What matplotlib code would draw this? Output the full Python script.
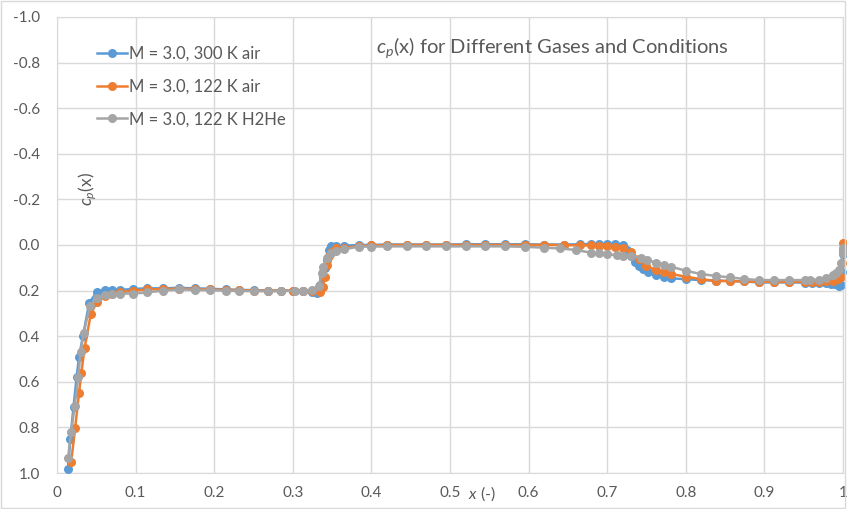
import matplotlib
matplotlib.use("Agg")
import matplotlib.pyplot as plt

plt.rcParams["font.family"] = ["Lato", "DejaVu Sans"]
plt.rcParams["mathtext.fontset"] = "custom"
plt.rcParams["mathtext.rm"] = "Lato"
plt.rcParams["mathtext.it"] = "Lato:italic"

# M = 3.0, 300 K air
x_300_air = [0.014, 0.017, 0.021, 0.025, 0.028, 0.033, 0.041, 0.051, 0.061, 0.070,
             0.080, 0.097, 0.115, 0.135, 0.155, 0.175, 0.195, 0.215, 0.232, 0.250,
             0.268, 0.285, 0.300, 0.313, 0.325, 0.331, 0.335, 0.338, 0.341, 0.343,
             0.346, 0.349, 0.355, 0.365, 0.384, 0.400, 0.420, 0.445, 0.470, 0.495,
             0.520, 0.545, 0.570, 0.595, 0.620, 0.645, 0.665, 0.680, 0.690, 0.700,
             0.710, 0.720, 0.725, 0.730, 0.735, 0.740, 0.745, 0.752, 0.762, 0.772,
             0.781, 0.800, 0.819, 0.838, 0.856, 0.874, 0.893, 0.912, 0.931, 0.951,
             0.961, 0.970, 0.978, 0.985, 0.990, 0.995, 0.998, 0.999, 1.000]
cp_300_air = [0.984, 0.850, 0.710, 0.580, 0.490, 0.400, 0.253, 0.205, 0.197, 0.197,
              0.197, 0.193, 0.190, 0.190, 0.188, 0.190, 0.192, 0.195, 0.197, 0.198,
              0.200, 0.200, 0.200, 0.200, 0.205, 0.210, 0.175, 0.140, 0.100, 0.066,
              0.022, 0.005, 0.004, 0.003, 0.000, 0.000, -0.002, -0.002, -0.002, -0.002,
              -0.003, -0.003, -0.003, -0.003, -0.002, -0.002, -0.003, -0.004, -0.004, -0.004,
              -0.004, -0.002, 0.020, 0.050, 0.075, 0.090, 0.105, 0.118, 0.132, 0.139,
              0.146, 0.150, 0.154, 0.156, 0.158, 0.160, 0.164, 0.164, 0.164, 0.165,
              0.165, 0.168, 0.168, 0.170, 0.172, 0.178, 0.175, 0.120, 0.040]

# M = 3.0, 122 K air
x_122_air = [0.018, 0.023, 0.028, 0.031, 0.035, 0.043, 0.051, 0.061, 0.070, 0.080,
             0.097, 0.115, 0.135, 0.155, 0.175, 0.195, 0.215, 0.232, 0.250, 0.268,
             0.285, 0.300, 0.313, 0.325, 0.335, 0.338, 0.341, 0.343, 0.346, 0.349,
             0.355, 0.365, 0.384, 0.400, 0.420, 0.445, 0.470, 0.495, 0.520, 0.545,
             0.570, 0.595, 0.620, 0.645, 0.665, 0.680, 0.690, 0.700, 0.710, 0.720,
             0.730, 0.740, 0.749, 0.762, 0.772, 0.781, 0.800, 0.819, 0.838, 0.856,
             0.874, 0.893, 0.912, 0.931, 0.951, 0.961, 0.970, 0.978, 0.987, 0.993,
             0.997, 0.999, 1.000, 1.000]
cp_122_air = [0.953, 0.804, 0.650, 0.560, 0.453, 0.303, 0.249, 0.225, 0.215, 0.208,
              0.200, 0.195, 0.193, 0.192, 0.193, 0.195, 0.197, 0.198, 0.200, 0.200,
              0.200, 0.200, 0.200, 0.200, 0.205, 0.183, 0.140, 0.088, 0.050, 0.029,
              0.015, 0.012, 0.005, 0.002, 0.000, 0.000, 0.000, 0.000, 0.000, 0.000,
              0.000, 0.000, 0.000, 0.000, 0.002, 0.002, 0.004, 0.006, 0.010, 0.015,
              0.030, 0.060, 0.090, 0.110, 0.120, 0.127, 0.139, 0.150, 0.158, 0.158,
              0.160, 0.162, 0.162, 0.162, 0.162, 0.162, 0.162, 0.158, 0.160, 0.150,
              0.139, 0.080, 0.020, -0.010]

# M = 3.0, 122 K H2He
x_122_h2he = [0.014, 0.018, 0.0225, 0.027, 0.030, 0.034, 0.042, 0.051, 0.061, 0.070,
              0.080, 0.097, 0.115, 0.135, 0.155, 0.175, 0.195, 0.215, 0.232, 0.250,
              0.268, 0.285, 0.303, 0.313, 0.324, 0.333, 0.337, 0.339, 0.343, 0.348,
              0.355, 0.365, 0.384, 0.400, 0.420, 0.445, 0.470, 0.495, 0.520, 0.545,
              0.570, 0.595, 0.620, 0.640, 0.660, 0.680, 0.690, 0.700, 0.713, 0.720,
              0.730, 0.743, 0.751, 0.762, 0.772, 0.781, 0.800, 0.819, 0.838, 0.856,
              0.874, 0.893, 0.912, 0.931, 0.951, 0.958, 0.970, 0.978, 0.987, 0.991,
              0.995, 0.997, 1.000, 1.000]
cp_122_h2he = [0.935, 0.820, 0.706, 0.580, 0.470, 0.385, 0.266, 0.234, 0.219, 0.216,
               0.213, 0.213, 0.208, 0.200, 0.195, 0.197, 0.198, 0.200, 0.202, 0.202,
               0.203, 0.203, 0.200, 0.200, 0.197, 0.180, 0.124, 0.095, 0.058, 0.036,
               0.025, 0.019, 0.007, 0.007, 0.006, 0.006, 0.006, 0.006, 0.006, 0.006,
               0.006, 0.008, 0.012, 0.015, 0.022, 0.034, 0.037, 0.040, 0.045, 0.048,
               0.050, 0.055, 0.066, 0.077, 0.088, 0.095, 0.113, 0.127, 0.136, 0.142,
               0.149, 0.154, 0.154, 0.154, 0.154, 0.154, 0.152, 0.146, 0.130, 0.124,
               0.110, 0.080, 0.037, 0.015]

x_ticks = [0, 0.1, 0.2, 0.3, 0.4, 0.5, 0.6, 0.7, 0.8, 0.9, 1]
x_tick_labels = ["0", "0.1", "0.2", "0.3", "0.4", "0.5", "0.6", "0.7", "0.8", "0.9", "1"]
y_ticks = [-1.0, -0.8, -0.6, -0.4, -0.2, 0.0, 0.2, 0.4, 0.6, 0.8, 1.0]

text_color = "#595959"
grid_color = "#D9D9D9"

fig = plt.figure(figsize=(8.47, 5.09), dpi=100)
ax = fig.add_axes([0.0673, 0.0707, 0.928, 0.896])

series = [
    (x_300_air, cp_300_air, "#5B9BD5", "M = 3.0, 300 K air"),
    (x_122_air, cp_122_air, "#ED7D31", "M = 3.0, 122 K air"),
    (x_122_h2he, cp_122_h2he, "#A5A5A5", "M = 3.0, 122 K H2He"),
]
for xs, ys, color, label in series:
    ax.plot(xs, ys, color=color, lw=1.8, marker="o", markersize=6.5,
            markeredgewidth=0, label=label, clip_on=False, zorder=3)

ax.set_xlim(0, 1)
ax.set_ylim(1.0, -1.0)
ax.set_xticks(x_ticks)
ax.set_xticklabels(x_tick_labels)
ax.set_yticks(y_ticks)
ax.set_yticklabels([f"{v:.1f}" for v in y_ticks])
ax.tick_params(length=0, labelsize=11, labelcolor=text_color, pad=12)
ax.tick_params(axis="x", pad=9)
ax.grid(True, color=grid_color, lw=1)
for sp in ax.spines.values():
    sp.set_color(grid_color)

fig.text(0.652, 0.907, "$c_p$(x) for Different Gases and Conditions",
         ha="center", va="center", fontsize=14.5, color=text_color)
fig.text(0.104, 0.628, "$c_p$(x)", rotation=90, ha="center", va="center",
         fontsize=12.5, color=text_color)
fig.text(0.569, 0.031, "$x$ (-)", ha="center", va="center",
         fontsize=11.5, color=text_color)

leg = ax.legend(loc="upper left", bbox_to_anchor=(0.115, 0.91),
                bbox_transform=fig.transFigure, frameon=False,
                fontsize=12, labelcolor=text_color, handlelength=1.8,
                handletextpad=0.1, labelspacing=1.0, borderaxespad=0,
                borderpad=0)

fig.patches.append(plt.Rectangle((0.001, 0.001), 0.997, 0.997, transform=fig.transFigure,
                                 fill=False, edgecolor=grid_color, lw=1))

fig.savefig("out.png", dpi=100)
